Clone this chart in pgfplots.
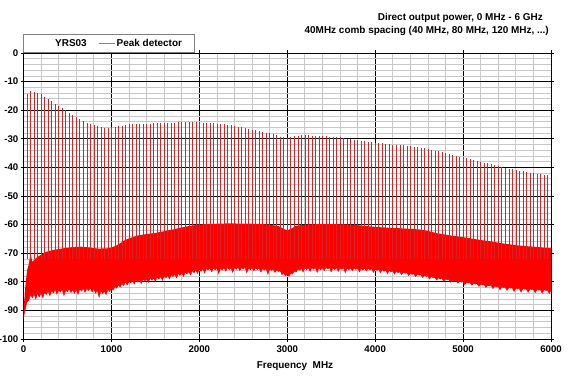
\documentclass[border=0pt]{standalone}
\usepackage{pgfplots}
\pgfplotsset{compat=1.18}
\usepackage{pgfplotstable}
\usepgfplotslibrary{fillbetween}
\usepackage{fontspec}
\setmainfont{Liberation Sans}
\definecolor{mingrid}{RGB}{200,200,200}
\definecolor{combred}{RGB}{215,35,35}
\definecolor{legred}{RGB}{230,90,90}

% comb peaks (Peak detector), every 40 MHz
\pgfplotstableread{
f p
40 -14.5
80 -13.2
120 -13.5
160 -14.0
200 -14.5
240 -15.3
280 -16.1
320 -16.9
360 -17.7
400 -18.5
440 -19.3
480 -20.1
520 -20.9
560 -21.7
600 -22.5
640 -23.2
680 -23.9
720 -24.5
760 -24.9
800 -25.3
840 -25.6
880 -25.9
920 -26.1
960 -26.2
1000 -26.0
1040 -25.8
1080 -25.6
1120 -25.4
1160 -25.2
1200 -25.0
1240 -24.9
1280 -24.9
1320 -24.8
1360 -24.8
1400 -24.7
1440 -24.7
1480 -24.6
1520 -24.6
1560 -24.5
1600 -24.5
1640 -24.5
1680 -24.4
1720 -24.4
1760 -24.3
1800 -24.3
1840 -24.3
1880 -24.3
1920 -24.3
1960 -24.3
2000 -24.3
2040 -24.4
2080 -24.5
2120 -24.5
2160 -24.6
2200 -24.7
2240 -24.8
2280 -25.0
2320 -25.2
2360 -25.3
2400 -25.5
2440 -25.8
2480 -26.0
2520 -26.3
2560 -26.5
2600 -26.8
2640 -27.0
2680 -27.3
2720 -27.5
2760 -27.8
2800 -28.0
2840 -28.4
2880 -28.8
2920 -29.2
2960 -29.5
3000 -29.7
3040 -29.5
3080 -29.1
3120 -28.9
3160 -28.8
3200 -28.8
3240 -28.8
3280 -28.9
3320 -28.9
3360 -29.0
3400 -29.0
3440 -29.1
3480 -29.2
3520 -29.3
3560 -29.4
3600 -29.5
3640 -29.7
3680 -29.9
3720 -30.1
3760 -30.3
3800 -30.5
3840 -30.7
3880 -30.8
3920 -31.0
3960 -31.2
4000 -31.3
4040 -31.5
4080 -31.6
4120 -31.7
4160 -31.9
4200 -32.0
4240 -32.1
4280 -32.2
4320 -32.3
4360 -32.4
4400 -32.5
4440 -32.7
4480 -32.9
4520 -33.1
4560 -33.3
4600 -33.5
4640 -33.8
4680 -34.1
4720 -34.4
4760 -34.7
4800 -35.0
4840 -35.3
4880 -35.6
4920 -35.9
4960 -36.2
5000 -36.5
5040 -36.8
5080 -37.1
5120 -37.4
5160 -37.7
5200 -38.0
5240 -38.3
5280 -38.6
5320 -38.9
5360 -39.2
5400 -39.5
5440 -39.8
5480 -40.1
5520 -40.4
5560 -40.7
5600 -41.0
5640 -41.2
5680 -41.4
5720 -41.6
5760 -41.8
5800 -42.0
5840 -42.2
5880 -42.4
5920 -42.6
5960 -42.8
6000 -43.0
}\combdata

% upper edge of the noise band
\pgfplotstableread{
f y
0 -90
20 -82
40 -76
60 -74
80 -70
100 -73
150 -71.5
200 -70.5
260 -69.5
350 -68.8
450 -68.3
550 -67.9
650 -67.7
750 -68.0
850 -68.4
950 -68.3
1000 -68.0
1050 -67.4
1100 -66.5
1150 -65.5
1200 -64.8
1300 -63.8
1400 -63.3
1500 -62.9
1600 -62.3
1700 -61.7
1800 -61.0
1900 -60.4
2000 -60.0
2100 -59.8
2200 -59.7
2300 -59.6
2400 -59.6
2500 -59.7
2600 -59.7
2700 -59.8
2800 -60.0
2900 -60.5
2960 -61.5
3000 -62.0
3040 -61.5
3100 -60.4
3200 -60.0
3300 -59.9
3400 -59.8
3500 -59.8
3600 -59.9
3700 -60.0
3800 -60.2
3900 -60.5
4000 -60.8
4100 -61.0
4200 -61.2
4300 -61.3
4400 -61.5
4500 -61.7
4600 -62.2
4700 -63.0
4800 -63.5
4900 -64.0
5000 -64.4
5100 -64.9
5200 -65.4
5300 -65.8
5400 -66.3
5500 -66.8
5600 -67.2
5700 -67.5
5800 -67.7
5900 -68.0
6000 -68.3
}\noiseup

% lower (noisy) edge of the noise band
\pgfplotstableread{
f y
0 -92.5
20 -89.5
40 -87.0
60 -86.5
80 -84.5
100 -85.6
120 -84.2
140 -86.0
160 -84.0
180 -85.3
200 -83.8
220 -85.5
240 -83.6
260 -84.4
280 -83.2
300 -84.9
320 -83.0
340 -83.9
360 -82.6
380 -84.3
400 -82.8
420 -83.6
440 -82.5
460 -84.8
480 -82.9
500 -83.4
520 -82.4
540 -83.8
560 -82.7
580 -84.0
600 -82.6
620 -84.4
640 -82.5
660 -83.2
680 -82.2
700 -83.7
720 -82.3
740 -83.0
760 -82.1
780 -83.6
800 -82.4
820 -84.0
840 -82.8
860 -85.4
880 -83.0
900 -84.1
920 -83.2
940 -84.5
960 -82.6
980 -83.4
1000 -82.1
1020 -82.9
1040 -81.6
1060 -82.2
1080 -81.2
1100 -81.8
1120 -80.6
1140 -81.3
1160 -80.0
1180 -81.1
1200 -79.8
1220 -80.4
1240 -79.5
1260 -80.8
1280 -79.4
1300 -80.1
1320 -79.2
1340 -80.6
1360 -79.0
1380 -79.8
1400 -78.9
1420 -80.2
1440 -78.7
1460 -79.4
1480 -78.6
1500 -79.8
1520 -78.4
1540 -79.0
1560 -78.1
1580 -79.5
1600 -77.9
1620 -78.6
1640 -77.7
1660 -79.0
1680 -77.5
1700 -78.2
1720 -77.3
1740 -78.6
1760 -77.0
1780 -77.8
1800 -76.8
1820 -78.1
1840 -76.6
1860 -77.2
1880 -76.4
1900 -77.6
1920 -76.1
1940 -76.8
1960 -75.9
1980 -77.1
2000 -75.6
2020 -76.3
2040 -75.4
2060 -76.9
2080 -75.3
2100 -75.9
2120 -75.2
2140 -76.5
2160 -75.1
2180 -75.8
2200 -75.0
2220 -77.1
2240 -75.2
2260 -75.9
2280 -75.0
2300 -76.3
2320 -74.9
2340 -75.7
2360 -75.1
2380 -76.7
2400 -75.0
2420 -75.6
2440 -74.9
2460 -76.1
2480 -75.0
2500 -75.5
2520 -74.9
2540 -76.9
2560 -75.1
2580 -75.8
2600 -75.0
2620 -76.2
2640 -75.1
2660 -75.7
2680 -75.2
2700 -76.6
2720 -75.3
2740 -75.9
2760 -75.4
2780 -77.3
2800 -75.5
2820 -76.0
2840 -75.6
2860 -76.7
2880 -75.8
2900 -76.4
2920 -76.1
2940 -77.5
2960 -76.9
2980 -77.9
3000 -77.4
3020 -78.1
3040 -76.9
3060 -77.3
3080 -76.2
3100 -76.6
3120 -75.5
3140 -76.0
3160 -75.2
3180 -76.6
3200 -75.0
3220 -75.7
3240 -75.1
3260 -76.4
3280 -74.9
3300 -75.6
3320 -75.0
3340 -76.7
3360 -75.1
3380 -75.8
3400 -75.0
3420 -76.1
3440 -74.9
3460 -75.5
3480 -75.0
3500 -76.5
3520 -75.1
3540 -75.7
3560 -75.0
3580 -76.3
3600 -75.1
3620 -75.6
3640 -75.0
3660 -76.8
3680 -75.2
3700 -75.8
3720 -75.1
3740 -76.1
3760 -75.2
3780 -75.6
3800 -75.1
3820 -76.5
3840 -75.3
3860 -75.9
3880 -75.2
3900 -76.2
3920 -75.3
3940 -75.8
3960 -75.4
3980 -76.7
4000 -75.5
4020 -76.0
4040 -75.6
4060 -76.8
4080 -75.7
4100 -76.3
4120 -75.9
4140 -77.1
4160 -76.0
4180 -76.5
4200 -76.2
4220 -77.3
4240 -76.3
4260 -76.8
4280 -76.5
4300 -77.5
4320 -76.6
4340 -77.0
4360 -76.8
4380 -77.8
4400 -77.0
4420 -77.4
4440 -77.2
4460 -78.2
4480 -77.3
4500 -77.7
4520 -77.5
4540 -78.5
4560 -77.7
4580 -78.1
4600 -77.9
4620 -79.0
4640 -78.1
4660 -78.6
4680 -78.4
4700 -79.4
4720 -78.6
4740 -79.0
4760 -78.8
4780 -79.8
4800 -79.0
4820 -79.3
4840 -79.2
4860 -80.2
4880 -79.4
4900 -79.7
4920 -79.6
4940 -80.5
4960 -79.8
4980 -80.1
5000 -80.0
5020 -81.0
5040 -80.1
5060 -80.4
5080 -80.3
5100 -81.2
5120 -80.5
5140 -80.8
5160 -80.7
5180 -81.6
5200 -80.9
5220 -81.1
5240 -81.0
5260 -82.0
5280 -81.2
5300 -81.4
5320 -81.3
5340 -82.4
5360 -81.5
5380 -81.7
5400 -81.6
5420 -82.8
5440 -81.8
5460 -82.0
5480 -81.9
5500 -83.0
5520 -82.0
5540 -82.2
5560 -82.1
5580 -83.4
5600 -82.2
5620 -82.4
5640 -82.3
5660 -83.6
5680 -82.4
5700 -82.6
5720 -82.5
5740 -83.7
5760 -82.5
5780 -82.7
5800 -82.6
5820 -83.8
5840 -82.7
5860 -82.9
5880 -82.8
5900 -84.0
5920 -82.8
5940 -83.0
5960 -82.9
5980 -84.1
6000 -83.0
}\noiselo

\begin{document}
\begin{tikzpicture}
\begin{axis}[
  name=ax,
  scale only axis,
  width=527.5bp, height=286bp,
  xmin=0, xmax=6000, ymin=-100, ymax=0,
  xtick={0,1000,...,6000},
  ytick={-100,-90,...,0},
  minor x tick num=4,
  minor y tick num=4,
  grid=both,
  major grid style={black, line width=0.8bp},
  minor grid style={mingrid, line width=0.7bp},
  axis line style={black, line width=0.8bp},
  tick align=outside,
  major tick length=3bp,
  minor tick length=0pt,
  tick style={black, line width=0.8bp},
  /pgf/number format/assume math mode=true,
  /pgf/number format/1000 sep={},
  tick label style={font=\bfseries\fontsize{9.7}{11}\selectfont},
  yticklabel style={inner sep=1bp, xshift=-1bp},
  xticklabel style={inner sep=1bp, yshift=-3bp},
]
% noise band
\addplot[name path=up, draw=none, forget plot] table[x=f, y=y] {\noiseup};
\addplot[name path=lo, red, line width=0.5bp, forget plot] table[x=f, y=y] {\noiselo};
\addplot[fill=red, draw=none, forget plot] fill between[of=up and lo];
% comb lines (peak detector trace)
\addplot[draw=none, mark=none, forget plot,
  error bars/.cd, y dir=minus, y explicit, error mark=none,
  error bar style={draw=combred, solid, line width=0.55bp}]
  table[x=f, y=p, y error minus expr={\thisrow{p}+72}] {\combdata};
\end{axis}
% legend box
\node[draw=gray, fill=white, line width=0.6bp, anchor=south west, minimum width=170bp, minimum height=18bp, inner sep=0pt] at (ax.north west) {};
\node[anchor=base west, inner sep=0pt, font=\bfseries\fontsize{10}{12}\selectfont] at ([shift={(31.5bp,6.3bp)}]ax.north west) {YRS03};
\fill[legred] ([shift={(75bp,8.6bp)}]ax.north west) rectangle ([shift={(91.5bp,10.4bp)}]ax.north west);
\node[anchor=base west, inner sep=0pt, font=\bfseries\fontsize{10}{12}\selectfont] at ([shift={(93bp,6.3bp)}]ax.north west) {Peak detector};
% titles
\node[anchor=base east, inner sep=0pt, font=\bfseries\fontsize{10}{12}\selectfont] at ([shift={(-8bp,32.5bp)}]ax.north east) {Direct\ output\ power, 0\ MHz - 6\ GHz};
\node[anchor=base east, inner sep=0pt, font=\bfseries\fontsize{10}{12}\selectfont] at ([shift={(-2bp,19.5bp)}]ax.north east) {40MHz\ comb\ spacing (40\ MHz, 80\ MHz, 120\ MHz, ...)};
% x label
\node[anchor=base, inner sep=0pt, font=\bfseries\fontsize{10}{12}\selectfont] at ([shift={(271.5bp,-29bp)}]ax.south west) {Frequency\ \ MHz};
\pgfresetboundingbox
\path ([shift={(-23.5bp,-41bp)}]ax.south west) rectangle ([shift={(19bp,53bp)}]ax.north east);
\end{tikzpicture}
\end{document}
